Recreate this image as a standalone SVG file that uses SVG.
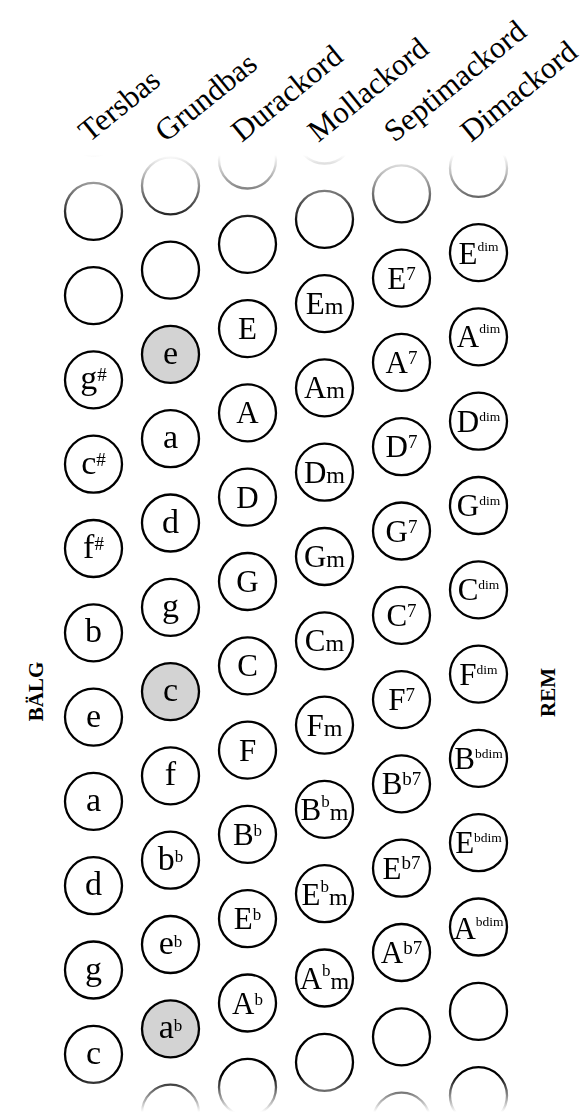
<svg xmlns="http://www.w3.org/2000/svg" width="584" height="1113" viewBox="0 0 584 1113">
<style>
.bg{fill:#fff}
.c{fill:#fff;stroke:#000;stroke-width:2.3}
.g .c,.c.g{fill:#d3d3d3}
.t{font-family:"Liberation Serif","Times New Roman",serif;text-anchor:middle;fill:#000}
.C{font-size:31px}
.L{font-size:34px}
.sup{font-size:19px}
.sb{font-size:17px}
.dim{font-size:13.5px}
.m{font-size:24px}
.h{font-family:"Liberation Serif","Times New Roman",serif;font-size:31px;fill:#000}
.side{font-family:"Liberation Serif","Times New Roman",serif;font-size:21px;font-weight:bold;text-anchor:middle;fill:#000}
</style>
<defs>
<linearGradient id="fadeG" gradientUnits="userSpaceOnUse" x1="0" y1="0" x2="0" y2="1113">
<stop offset="0" stop-color="#000"/>
<stop offset="0.1393" stop-color="#000"/>
<stop offset="0.2022" stop-color="#fff"/>
<stop offset="0.9659" stop-color="#fff"/>
<stop offset="0.9991" stop-color="#000"/>
<stop offset="1" stop-color="#000"/>
</linearGradient>
<mask id="fade" maskUnits="userSpaceOnUse" x="0" y="0" width="584" height="1113">
<rect x="0" y="0" width="584" height="1113" fill="url(#fadeG)"/>
</mask>
</defs>
<rect class="bg" x="0" y="0" width="584" height="1113"/>

<g id="headers">
<text id="h-tersbas" class="h" x="89" y="143" transform="rotate(-39 89 143)">Tersbas</text>
<text id="h-grundbas" class="h" x="165.4" y="143" transform="rotate(-39 165.4 143)">Grundbas</text>
<text id="h-durackord" class="h" x="241.8" y="143" transform="rotate(-39 241.8 143)">Durackord</text>
<text id="h-mollackord" class="h" x="318.2" y="143" transform="rotate(-39 318.2 143)">Mollackord</text>
<text id="h-septimackord" class="h" x="394.6" y="143" transform="rotate(-39 394.6 143)">Septimackord</text>
<text id="h-dimackord" class="h" x="471" y="143" transform="rotate(-39 471 143)">Dimackord</text>
</g>

<g id="side-labels">
<text id="balg" class="side" x="43" y="691.5" transform="rotate(-90 43 691.5)">BÄLG</text>
<text id="rem" class="side" x="555" y="692.5" transform="rotate(-90 555 692.5)">REM</text>
</g>

<g id="connectors"/>

<g id="buttons" mask="url(#fade)">
<!-- Column 1: Tersbas -->
<g id="t0"><circle class="c" cx="93.5" cy="127" r="28.5"/></g>
<g id="t1"><circle class="c" cx="93.5" cy="211.3" r="28.5"/></g>
<g id="t2"><circle class="c" cx="93.5" cy="295.6" r="28.5"/></g>
<g id="t-gis"><circle class="c" cx="93.5" cy="379.9" r="28.5"/><text class="t" x="93.5" y="389.4"><tspan class="L">g</tspan><tspan class="sup" dy="-8">#</tspan></text></g>
<g id="t-cis"><circle class="c" cx="93.5" cy="464.2" r="28.5"/><text class="t" x="93.5" y="473.7"><tspan class="L">c</tspan><tspan class="sup" dy="-8">#</tspan></text></g>
<g id="t-fis"><circle class="c" cx="93.5" cy="548.5" r="28.5"/><text class="t" x="93.5" y="558"><tspan class="L">f</tspan><tspan class="sup" dy="-8">#</tspan></text></g>
<g id="t-b"><circle class="c" cx="93.5" cy="632.8" r="28.5"/><text class="t L" x="93.5" y="642.3">b</text></g>
<g id="t-e"><circle class="c" cx="93.5" cy="717.1" r="28.5"/><text class="t L" x="93.5" y="726.6">e</text></g>
<g id="t-a"><circle class="c" cx="93.5" cy="801.4" r="28.5"/><text class="t L" x="93.5" y="810.9">a</text></g>
<g id="t-d"><circle class="c" cx="93.5" cy="885.7" r="28.5"/><text class="t L" x="93.5" y="895.2">d</text></g>
<g id="t-g"><circle class="c" cx="93.5" cy="970" r="28.5"/><text class="t L" x="93.5" y="979.5">g</text></g>
<g id="t-c"><circle class="c" cx="93.5" cy="1054.3" r="28.5"/><text class="t L" x="93.5" y="1063.8">c</text></g>

<!-- Column 2: Grundbas -->
<g id="g1"><circle class="c" cx="170.5" cy="185.8" r="28.5"/></g>
<g id="g2"><circle class="c" cx="170.5" cy="270.1" r="28.5"/></g>
<g id="g-e" class="g"><circle class="c" cx="170.5" cy="354.4" r="28.5"/><text class="t L" x="170.5" y="363.9">e</text></g>
<g id="g-a"><circle class="c" cx="170.5" cy="438.7" r="28.5"/><text class="t L" x="170.5" y="448.2">a</text></g>
<g id="g-d"><circle class="c" cx="170.5" cy="523" r="28.5"/><text class="t L" x="170.5" y="532.5">d</text></g>
<g id="g-g"><circle class="c" cx="170.5" cy="607.3" r="28.5"/><text class="t L" x="170.5" y="616.8">g</text></g>
<g id="g-c" class="g"><circle class="c" cx="170.5" cy="691.6" r="28.5"/><text class="t L" x="170.5" y="701.1">c</text></g>
<g id="g-f"><circle class="c" cx="170.5" cy="775.9" r="28.5"/><text class="t L" x="170.5" y="785.4">f</text></g>
<g id="g-bb"><circle class="c" cx="170.5" cy="860.2" r="28.5"/><text class="t" x="170.5" y="869.7"><tspan class="L">b</tspan><tspan class="sb" dy="-7.5">b</tspan></text></g>
<g id="g-eb"><circle class="c" cx="170.5" cy="944.5" r="28.5"/><text class="t" x="170.5" y="954"><tspan class="L">e</tspan><tspan class="sb" dy="-7.5">b</tspan></text></g>
<g id="g-ab" class="g"><circle class="c" cx="170.5" cy="1028.8" r="28.5"/><text class="t" x="170.5" y="1038.3"><tspan class="L">a</tspan><tspan class="sb" dy="-7.5">b</tspan></text></g>
<g id="g12"><circle class="c" cx="170.5" cy="1113.1" r="28.5"/></g>

<!-- Column 3: Durackord -->
<g id="d0"><circle class="c" cx="247.5" cy="160" r="28.5"/></g>
<g id="d1"><circle class="c" cx="247.5" cy="244.3" r="28.5"/></g>
<g id="d-E"><circle class="c" cx="247.5" cy="328.6" r="28.5"/><text class="t C" x="247.5" y="339.1">E</text></g>
<g id="d-A"><circle class="c" cx="247.5" cy="412.9" r="28.5"/><text class="t C" x="247.5" y="423.4">A</text></g>
<g id="d-D"><circle class="c" cx="247.5" cy="497.2" r="28.5"/><text class="t C" x="247.5" y="507.7">D</text></g>
<g id="d-G"><circle class="c" cx="247.5" cy="581.5" r="28.5"/><text class="t C" x="247.5" y="592">G</text></g>
<g id="d-C"><circle class="c" cx="247.5" cy="665.8" r="28.5"/><text class="t C" x="247.5" y="676.3">C</text></g>
<g id="d-F"><circle class="c" cx="247.5" cy="750.1" r="28.5"/><text class="t C" x="247.5" y="760.6">F</text></g>
<g id="d-Bb"><circle class="c" cx="247.5" cy="834.4" r="28.5"/><text class="t" x="247.5" y="844.9"><tspan class="C">B</tspan><tspan class="sb" dy="-9">b</tspan></text></g>
<g id="d-Eb"><circle class="c" cx="247.5" cy="918.7" r="28.5"/><text class="t" x="247.5" y="929.2"><tspan class="C">E</tspan><tspan class="sb" dy="-9">b</tspan></text></g>
<g id="d-Ab"><circle class="c" cx="247.5" cy="1003" r="28.5"/><text class="t" x="247.5" y="1013.5"><tspan class="C">A</tspan><tspan class="sb" dy="-9">b</tspan></text></g>
<g id="d11"><circle class="c" cx="247.5" cy="1087.3" r="28.5"/></g>

<!-- Column 4: Mollackord -->
<g id="m0"><circle class="c" cx="324.5" cy="135" r="28.5"/></g>
<g id="m1"><circle class="c" cx="324.5" cy="219.3" r="28.5"/></g>
<g id="m-Em"><circle class="c" cx="324.5" cy="303.6" r="28.5"/><text class="t" x="324.5" y="314.1"><tspan class="C">E</tspan><tspan class="m">m</tspan></text></g>
<g id="m-Am"><circle class="c" cx="324.5" cy="387.9" r="28.5"/><text class="t" x="324.5" y="398.4"><tspan class="C">A</tspan><tspan class="m">m</tspan></text></g>
<g id="m-Dm"><circle class="c" cx="324.5" cy="472.2" r="28.5"/><text class="t" x="324.5" y="482.7"><tspan class="C">D</tspan><tspan class="m">m</tspan></text></g>
<g id="m-Gm"><circle class="c" cx="324.5" cy="556.5" r="28.5"/><text class="t" x="324.5" y="567"><tspan class="C">G</tspan><tspan class="m">m</tspan></text></g>
<g id="m-Cm"><circle class="c" cx="324.5" cy="640.8" r="28.5"/><text class="t" x="324.5" y="651.3"><tspan class="C">C</tspan><tspan class="m">m</tspan></text></g>
<g id="m-Fm"><circle class="c" cx="324.5" cy="725.1" r="28.5"/><text class="t" x="324.5" y="735.6"><tspan class="C">F</tspan><tspan class="m">m</tspan></text></g>
<g id="m-Bbm"><circle class="c" cx="324.5" cy="809.4" r="28.5"/><text class="t" x="324.5" y="820.4"><tspan class="C">B</tspan><tspan class="sb" dy="-13">b</tspan><tspan class="m" dy="13">m</tspan></text></g>
<g id="m-Ebm"><circle class="c" cx="324.5" cy="893.7" r="28.5"/><text class="t" x="324.5" y="904.7"><tspan class="C">E</tspan><tspan class="sb" dy="-13">b</tspan><tspan class="m" dy="13">m</tspan></text></g>
<g id="m-Abm"><circle class="c" cx="324.5" cy="978" r="28.5"/><text class="t" x="324.5" y="989"><tspan class="C">A</tspan><tspan class="sb" dy="-13">b</tspan><tspan class="m" dy="13">m</tspan></text></g>
<g id="m11"><circle class="c" cx="324.5" cy="1062.3" r="28.5"/></g>

<!-- Column 5: Septimackord -->
<g id="s1"><circle class="c" cx="401.5" cy="193.8" r="28.5"/></g>
<g id="s-E7"><circle class="c" cx="401.5" cy="278.1" r="28.5"/><text class="t" x="401.5" y="288.6"><tspan class="C">E</tspan><tspan class="sup" dy="-9">7</tspan></text></g>
<g id="s-A7"><circle class="c" cx="401.5" cy="362.4" r="28.5"/><text class="t" x="401.5" y="372.9"><tspan class="C">A</tspan><tspan class="sup" dy="-9">7</tspan></text></g>
<g id="s-D7"><circle class="c" cx="401.5" cy="446.7" r="28.5"/><text class="t" x="401.5" y="457.2"><tspan class="C">D</tspan><tspan class="sup" dy="-9">7</tspan></text></g>
<g id="s-G7"><circle class="c" cx="401.5" cy="531" r="28.5"/><text class="t" x="401.5" y="541.5"><tspan class="C">G</tspan><tspan class="sup" dy="-9">7</tspan></text></g>
<g id="s-C7"><circle class="c" cx="401.5" cy="615.3" r="28.5"/><text class="t" x="401.5" y="625.8"><tspan class="C">C</tspan><tspan class="sup" dy="-9">7</tspan></text></g>
<g id="s-F7"><circle class="c" cx="401.5" cy="699.6" r="28.5"/><text class="t" x="401.5" y="710.1"><tspan class="C">F</tspan><tspan class="sup" dy="-9">7</tspan></text></g>
<g id="s-Bb7"><circle class="c" cx="401.5" cy="783.9" r="28.5"/><text class="t" x="401.5" y="794.4"><tspan class="C">B</tspan><tspan class="sup" dy="-9.5">b7</tspan></text></g>
<g id="s-Eb7"><circle class="c" cx="401.5" cy="868.2" r="28.5"/><text class="t" x="401.5" y="878.7"><tspan class="C">E</tspan><tspan class="sup" dy="-9.5">b7</tspan></text></g>
<g id="s-Ab7"><circle class="c" cx="401.5" cy="952.5" r="28.5"/><text class="t" x="401.5" y="963"><tspan class="C">A</tspan><tspan class="sup" dy="-9.5">b7</tspan></text></g>
<g id="s11"><circle class="c" cx="401.5" cy="1036.8" r="28.5"/></g>
<g id="s12"><circle class="c" cx="401.5" cy="1121.1" r="28.5"/></g>

<!-- Column 6: Dimackord -->
<g id="i1"><circle class="c" cx="478.5" cy="168.3" r="28.5"/></g>
<g id="i-Edim"><circle class="c" cx="478.5" cy="252.6" r="28.5"/><text class="t" x="478.5" y="263.6"><tspan class="C">E</tspan><tspan class="dim" dy="-13">dim</tspan></text></g>
<g id="i-Adim"><circle class="c" cx="478.5" cy="336.9" r="28.5"/><text class="t" x="478.5" y="347.4"><tspan class="C">A</tspan><tspan class="dim" dy="-14">dim</tspan></text></g>
<g id="i-Ddim"><circle class="c" cx="478.5" cy="421.2" r="28.5"/><text class="t" x="478.5" y="431.7"><tspan class="C">D</tspan><tspan class="dim" dy="-11">dim</tspan></text></g>
<g id="i-Gdim"><circle class="c" cx="478.5" cy="505.5" r="28.5"/><text class="t" x="478.5" y="516"><tspan class="C">G</tspan><tspan class="dim" dy="-11">dim</tspan></text></g>
<g id="i-Cdim"><circle class="c" cx="478.5" cy="589.8" r="28.5"/><text class="t" x="478.5" y="600.3"><tspan class="C">C</tspan><tspan class="dim" dy="-11">dim</tspan></text></g>
<g id="i-Fdim"><circle class="c" cx="478.5" cy="674.1" r="28.5"/><text class="t" x="478.5" y="684.6"><tspan class="C">F</tspan><tspan class="dim" dy="-11">dim</tspan></text></g>
<g id="i-Bbdim"><circle class="c" cx="478.5" cy="758.4" r="28.5"/><text class="t" x="478.5" y="768.9"><tspan class="C">B</tspan><tspan class="dim" dy="-11">bdim</tspan></text></g>
<g id="i-Ebdim"><circle class="c" cx="478.5" cy="842.7" r="28.5"/><text class="t" x="478.5" y="853.2"><tspan class="C">E</tspan><tspan class="dim" dy="-11">bdim</tspan></text></g>
<g id="i-Abdim"><circle class="c" cx="478.5" cy="927" r="28.5"/><text class="t" x="478.5" y="939"><tspan class="C">A</tspan><tspan class="dim" dy="-13">bdim</tspan></text></g>
<g id="i11"><circle class="c" cx="478.5" cy="1011.3" r="28.5"/></g>
<g id="i12"><circle class="c" cx="478.5" cy="1095.6" r="28.5"/></g>
</g>
</svg>
